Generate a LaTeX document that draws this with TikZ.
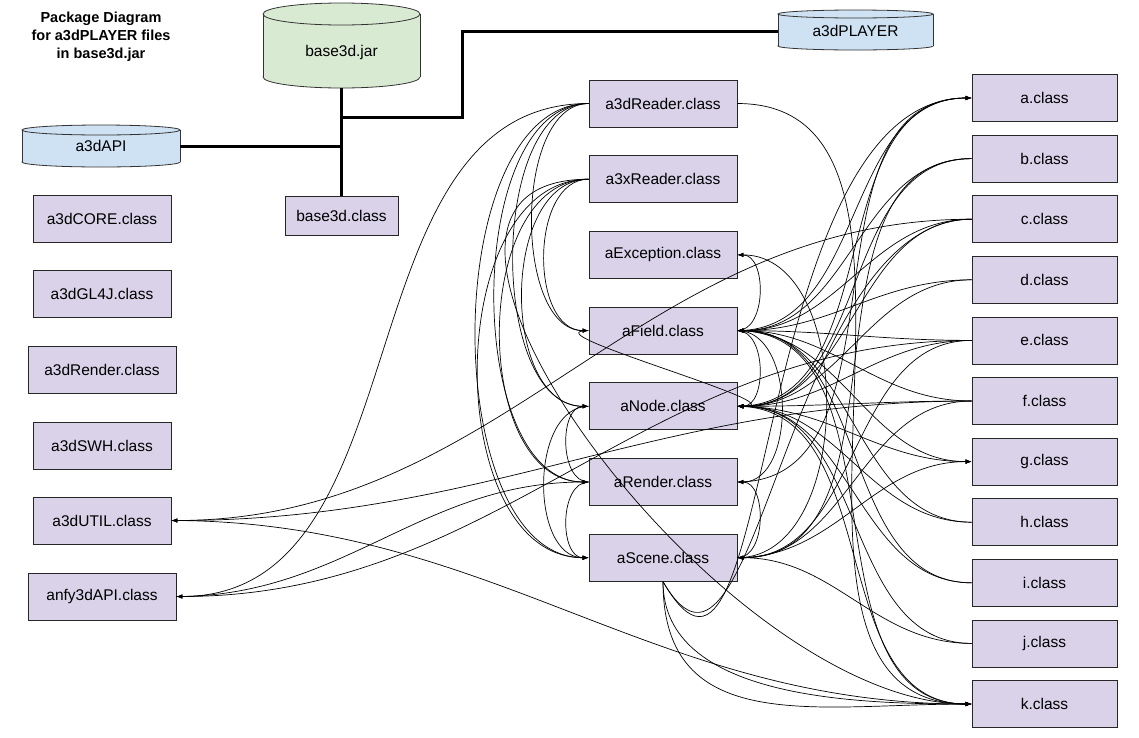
\documentclass[tikz,border=0pt]{standalone}
\usepackage{fontspec}
\setmainfont{Liberation Sans}
\usetikzlibrary{arrows.meta}
\definecolor{classfill}{HTML}{D9D2E9}
\definecolor{jarfill}{HTML}{D9EAD3}
\definecolor{pkgfill}{HTML}{CFE2F3}
% left, right, top cap, bottom cap, cap radius, fill
\newcommand{\pkgdrum}[6]{%
  \filldraw[fill=#6, draw=black!80, line width=0.8pt] ({(#1+#2)/2},#4) ellipse [x radius={(#2-#1)/2}, y radius=#5];
  \fill[#6] (#1,#3) rectangle (#2,#4);
  \draw[black!80, line width=0.8pt] (#1,#3) -- (#1,#4) (#2,#3) -- (#2,#4);
  \filldraw[fill=#6, draw=black!80, line width=0.8pt] ({(#1+#2)/2},#3) ellipse [x radius={(#2-#1)/2}, y radius=#5];
}

\begin{document}
\begin{tikzpicture}[x=1pt,y=-1pt,
  box/.style={draw=black!85, fill=classfill, line width=0.8pt, minimum height=47pt, inner sep=0pt, font=\fontsize{15.5}{18}\selectfont},
  drumtext/.style={inner sep=0pt, font=\fontsize{15.5}{18}\selectfont},
  link/.style={line width=0.7pt, -{Latex[length=6pt,width=4.5pt]}},
  wire/.style={line width=0.7pt},
  bus/.style={line width=3pt}]
\useasboundingbox (0,0) rectangle (1139,737);

% title
\node[font=\bfseries\fontsize{14.5}{18}\selectfont, align=center] (title) at (101,37) {Package Diagram\\for a3dPLAYER files\\in base3d.jar};

% packages
\pkgdrum{263}{420}{14}{77}{11}{jarfill}
\pkgdrum{778}{933}{14}{46}{4}{pkgfill}
\pkgdrum{22}{180}{130}{162}{5}{pkgfill}
\node[drumtext, minimum width=157pt] (jar) at (341.5,52) {base3d.jar};
\node[drumtext, minimum width=155pt] (player) at (855.5,31) {a3dPLAYER};
\node[drumtext, minimum width=158pt] (api) at (101,146) {a3dAPI};

% classes
\node[box, minimum width=113pt, minimum height=39pt] (base) at (341.5,216) {base3d.class};
\node[box, minimum width=138pt] (core) at (102,218.5) {a3dCORE.class};
\node[box, minimum width=138pt] (gl4j) at (102,294) {a3dGL4J.class};
\node[box, minimum width=148pt] (rend3d) at (102,370) {a3dRender.class};
\node[box, minimum width=138pt] (swh) at (102,445.5) {a3dSWH.class};
\node[box, minimum width=138pt] (util) at (102,520.5) {a3dUTIL.class};
\node[box, minimum width=148pt] (anfy) at (102,596.5) {anfy3dAPI.class};
\foreach \n/\txt [count=\i from 0] in {reader/a3dReader, xreader/a3xReader, except/aException, field/aField, nodec/aNode, render/aRender, scene/aScene}
  \node[box, minimum width=148pt] (\n) at (663,{103.5+75.7*\i}) {\txt.class};
\foreach \n [count=\i from 0] in {a,b,c,d,e,f,g,h,i,j,k}
  \node[box, minimum width=145pt] (\n) at (1044.5,{98+60.6*\i}) {\n.class};

% jar bus
\coordinate (jarbot) at (341.5,88);
\coordinate (tee1) at (341.5,117);
\coordinate (tee2) at (341.5,146);
\coordinate (bend1) at (462,117);
\coordinate (bend2) at (462,31);
\draw[bus] (jarbot) -- (base.north);
\draw[bus] (tee1) -- (bend1) -- (bend2) -- (player.west);
\draw[bus] (api.east) -- (tee2);

% readers into the middle column
\foreach \t in {field,nodec,render,scene} {
  \draw[link] (reader.west) to[out=180,in=180,looseness=0.85] (\t.west);
  \draw[link] (xreader.west) to[out=180,in=180] (\t.west);
}
\draw[link] (reader.west) to[out=180,in=0] (anfy.east);
\draw[link] (reader.east) to[out=0,in=180] (k.west);
\draw[link] (xreader.west) to[out=180,in=180] (k.west);
\draw[link] (render.west) to[out=180,in=180] (nodec.west);
\draw[link] (nodec.west) to[out=180,in=180] (scene.west);
\draw[link] (render.west) to[out=180,in=180] (scene.west);
\draw[link] (field.west) to[out=180,in=0] (nodec.east);

% left column
\draw[link] (c.west) to[out=180,in=0] (util.east);
\draw[link] (f.west) to[out=180,in=0] (util.east);
\draw[link] (e.west) to[out=180,in=0] (anfy.east);
\draw[link] (anfy.east) to[out=0,in=180] (render.west);
\draw[link] (util.east) to[out=0,in=180] (k.west);

% right column
\foreach \s in {b,c,d,e,f,h,i}
  \draw[link] (\s.west) to[out=180,in=0] (field.east);
\foreach \s in {b,c,d,e,f,h,i,j}
  \draw[link] (\s.west) to[out=180,in=0] (nodec.east);
\foreach \t in {a,g,k} {
  \draw[link] (field.east) to[out=0,in=180] (\t.west);
  \draw[link] (nodec.east) to[out=0,in=180] (\t.west);
}
\foreach \s in {b,e,f,j}
  \draw[link] (\s.west) to[out=180,in=0] (scene.east);
\draw[link] (scene.east) to[out=0,in=180] (g.west);
\draw[link] (render.east) to[out=0,in=180] (a.west);
\draw[link] (scene.south) to[out=-60,in=180] (a.west);
\draw[wire] (scene.south) to[out=-60,in=180] (c.west);
\draw[link] (scene.south) to[out=-90,in=180,looseness=0.9] (k.west);
\draw[link] (scene.south) to[out=-90,in=180,looseness=1.2] (k.west);

% arcs on the right side
\draw[link] (field.east) to[out=0,in=0] (except.east);
\draw[link] (scene.east) to[out=0,in=0] (except.east);
\draw[link] (field.east) to[out=0,in=0] (render.east);
\draw[link] (field.east) to[out=0,in=0] (nodec.east);
\draw[link] (scene.east) to[out=0,in=0] (render.east);
\end{tikzpicture}
\end{document}
